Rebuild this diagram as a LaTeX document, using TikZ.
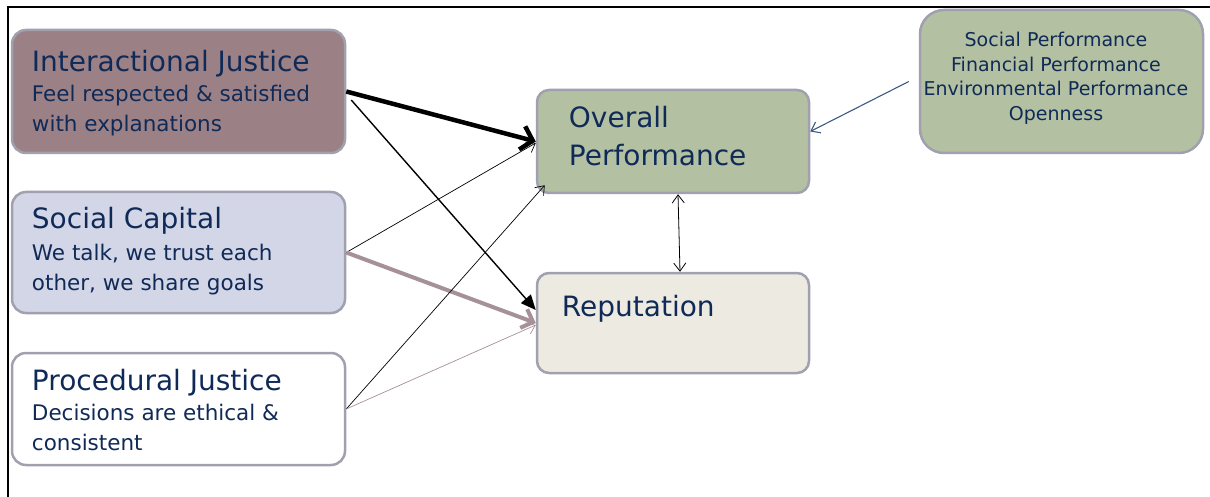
\documentclass[tikz,border=0pt]{standalone}
\usepackage{fontspec}
\setmainfont{DejaVu Sans}
\usetikzlibrary{arrows.meta}

\definecolor{boxline}{RGB}{160,160,175}
\definecolor{txtblue}{RGB}{16,42,88}
\definecolor{ijfill}{RGB}{155,129,133}
\definecolor{scfill}{RGB}{211,214,230}
\definecolor{opfill}{RGB}{179,193,162}
\definecolor{repfill}{RGB}{237,235,225}
\definecolor{mauve}{RGB}{165,145,150}
\definecolor{navy}{RGB}{60,90,130}

\tikzset{
  box/.style={draw=boxline, line width=2.5pt, rounded corners=14pt, inner sep=0pt},
  headtxt/.style={font=\fontsize{28}{34}\selectfont, text=txtblue, inner sep=0pt, anchor=base west},
  subtxt/.style={font=\fontsize{21.5}{30}\selectfont, text=txtblue, inner sep=0pt, anchor=base west},
  listtxt/.style={font=\fontsize{19}{25}\selectfont, text=txtblue, inner sep=0pt, anchor=base},
  barb/.style={-{Straight Barb[length=8pt,width=12pt]}},
  thinarrow/.style={barb, line width=0.7pt},
}

\begin{document}
\begin{tikzpicture}
  \useasboundingbox (0pt,0pt) rectangle (1210pt,-497pt);

  %% frame
  \draw[line width=2pt] (8pt,-497pt) -- (8pt,-7pt) -- (1210pt,-7pt);

  %% boxes
  \node[box, fill=ijfill, minimum width=333pt, minimum height=123pt] (ij) at (178.5pt,-91.5pt) {};
  \node[box, fill=scfill, minimum width=333pt, minimum height=121pt] (sc) at (178.5pt,-252.5pt) {};
  \node[box, fill=white, minimum width=333pt, minimum height=112pt] (pj) at (178.5pt,-409pt) {};
  \node[box, fill=opfill, rounded corners=12pt, minimum width=272pt, minimum height=103pt] (op) at (673pt,-141.5pt) {};
  \node[box, fill=repfill, rounded corners=12pt, minimum width=272pt, minimum height=100pt] (rep) at (673pt,-323pt) {};
  \node[box, fill=opfill, rounded corners=24pt, minimum width=283pt, minimum height=143pt] (rb) at (1061.5pt,-81.5pt) {};

  %% texts
  \node[headtxt] (ijt) at ([shift={(21pt,-43pt)}]ij.north west) {Interactional Justice};
  \node[subtxt] (ija) at ([shift={(21pt,-73pt)}]ij.north west) {Feel respected \& satisfied};
  \node[subtxt] (ijb) at ([shift={(21pt,-103pt)}]ij.north west) {with explanations};

  \node[headtxt] (sct) at ([shift={(21pt,-38pt)}]sc.north west) {Social Capital};
  \node[subtxt] (sca) at ([shift={(21pt,-70pt)}]sc.north west) {We talk, we trust each};
  \node[subtxt] (scb) at ([shift={(21pt,-100pt)}]sc.north west) {other, we share goals};

  \node[headtxt] (pjt) at ([shift={(21pt,-39pt)}]pj.north west) {Procedural Justice};
  \node[subtxt] (pja) at ([shift={(21pt,-69pt)}]pj.north west) {Decisions are ethical \&};
  \node[subtxt] (pjb) at ([shift={(21pt,-99pt)}]pj.north west) {consistent};

  \node[headtxt] (opa) at ([shift={(33pt,-39pt)}]op.north west) {Overall};
  \node[headtxt] (opb) at ([shift={(33pt,-77pt)}]op.north west) {Performance};

  \node[headtxt] (rept) at ([shift={(26pt,-45pt)}]rep.north west) {Reputation};

  \node[listtxt] (rba) at ([shift={(-5.5pt,-38pt)}]rb.north) {Social Performance};
  \node[listtxt] (rbb) at ([shift={(-5.5pt,-63pt)}]rb.north) {Financial Performance};
  \node[listtxt] (rbc) at ([shift={(-5.5pt,-87pt)}]rb.north) {Environmental Performance};
  \node[listtxt] (rbd) at ([shift={(-5.5pt,-112pt)}]rb.north) {Openness};

  %% connectors
  \draw[-{Straight Barb[length=11pt,width=24pt]}, line width=4.5pt] (ij.east) -- (op.west);
  \draw[-{Triangle[length=15pt,width=13pt]}, line width=1.4pt]
    ([shift={(5pt,-8.5pt)}]ij.east) -- ([yshift=13pt]rep.west);
  \draw[thinarrow] (sc.east) -- ([yshift=-1.5pt]op.west);
  \draw[-{Straight Barb[length=10pt,width=20pt]}, line width=4pt, mauve] (sc.east) -- (rep.west);
  \draw[thinarrow] (pj.east) -- ([shift={(9pt,9pt)}]op.south west);
  \draw[thinarrow, mauve] (pj.east) -- ([yshift=-2pt]rep.west);
  \draw[{Straight Barb[length=8pt,width=12pt]}-{Straight Barb[length=8pt,width=12pt]}, line width=0.8pt]
    ([xshift=5pt]op.south) -- ([xshift=7pt]rep.north);
  \draw[barb, line width=1.1pt, navy] ([xshift=-10pt]rb.west) -- ([yshift=10pt]op.east);

\end{tikzpicture}
\end{document}
